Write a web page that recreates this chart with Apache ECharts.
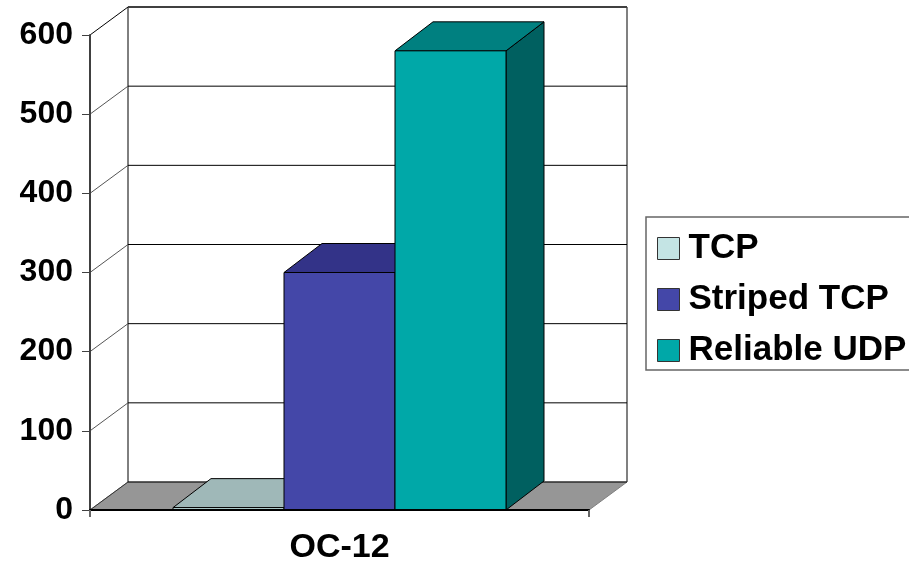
<!DOCTYPE html>
<html>
<head>
<meta charset="utf-8">
<script src="https://cdn.jsdelivr.net/npm/echarts@6/dist/echarts.min.js"></script>
<style>
html,body{margin:0;padding:0;background:#fff;}
#chart{width:909px;height:561px;}
</style>
</head>
<body>
<div id="chart"></div>
<script>
// ---- data ----
var categories = ['OC-12'];
var seriesNames = ['TCP', 'Striped TCP', 'Reliable UDP'];
var tcpValues = [3];
var stripedTcpValues = [300];
var reliableUdpValues = [580];
var yTicks = [0, 100, 200, 300, 400, 500, 600];

// ---- styles ----
var FONT = "'Liberation Sans', Arial, Helvetica, sans-serif";
var faceColors = [
  { front: '#C4E4E4', top: '#9FB8B8', side: '#7F9C9C' },
  { front: '#4447A8', top: '#333388', side: '#262666' },
  { front: '#00A8A8', top: '#008080', side: '#006060' }
];
var WALL_DX = 38, WALL_DY = -28;
var BAR_DX = 38, BAR_DY = -29;
var CAT_GAP = 1 - 333 / 499;

var chart = echarts.init(document.getElementById('chart'), null, { renderer: 'canvas' });

function wallRender(params, api) {
  var cs = params.coordSys;
  var v = api.value(0);
  var y = api.coord([0, v])[1];
  var xL = cs.x, xR = cs.x + cs.width;
  var children = [];
  var isTop = v === yTicks[yTicks.length - 1];
  var isBottom = v === yTicks[0];
  if (isBottom) {
    children.push({
      type: 'polygon',
      shape: { points: [[xL, y], [xL + WALL_DX, y + WALL_DY], [xR + WALL_DX, y + WALL_DY], [xR, y]] },
      style: { fill: '#969696', stroke: '#808080', lineWidth: 1 }
    });
    var yTopPx = api.coord([0, yTicks[yTicks.length - 1]])[1];
    children.push({
      type: 'line',
      shape: { x1: xL + WALL_DX, y1: yTopPx + WALL_DY, x2: xL + WALL_DX, y2: y + WALL_DY },
      style: { stroke: '#000', lineWidth: 1 }
    });
    children.push({
      type: 'line',
      shape: { x1: xR + WALL_DX, y1: yTopPx + WALL_DY, x2: xR + WALL_DX, y2: y + WALL_DY },
      style: { stroke: '#808080', lineWidth: 2 }
    });
  }
  children.push({
    type: 'line',
    shape: { x1: xL + WALL_DX, y1: y + WALL_DY, x2: xR + WALL_DX, y2: y + WALL_DY },
    style: { stroke: isTop ? '#404040' : '#000', lineWidth: isTop ? 2 : 1 }
  });
  children.push({
    type: 'line',
    shape: { x1: xL, y1: y, x2: xL + WALL_DX, y2: y + WALL_DY },
    style: { stroke: isTop ? '#000' : (isBottom ? '#333' : '#555'), lineWidth: 1 }
  });
  return { type: 'group', children: children };
}

function makeBarRender(idx) {
  return function (params, api) {
    var cat = api.value(0);
    var val = api.value(1);
    var band = api.size([1, 0])[0];
    var center = api.coord([cat, 0]);
    var yBot = center[1];
    var yTop = api.coord([cat, val])[1];
    var barW = band * (1 - CAT_GAP) / seriesNames.length;
    var x0 = center[0] - barW * seriesNames.length / 2 + idx * barW;
    var x1 = x0 + barW;
    var c = faceColors[idx];
    var edge = { stroke: '#000', lineWidth: 1, lineJoin: 'miter' };
    return {
      type: 'group',
      children: [
        {
          type: 'polygon',
          shape: { points: [[x1, yTop], [x1 + BAR_DX, yTop + BAR_DY], [x1 + BAR_DX, yBot + BAR_DY], [x1, yBot]] },
          style: Object.assign({ fill: c.side }, edge)
        },
        {
          type: 'polygon',
          shape: { points: [[x0, yTop], [x0 + BAR_DX, yTop + BAR_DY], [x1 + BAR_DX, yTop + BAR_DY], [x1, yTop]] },
          style: Object.assign({ fill: c.top }, edge)
        },
        {
          type: 'rect',
          shape: { x: x0, y: yTop, width: barW, height: yBot - yTop },
          style: Object.assign({ fill: c.front }, edge)
        }
      ]
    };
  };
}

var seriesValues = [tcpValues, stripedTcpValues, reliableUdpValues];

var series = [{
  type: 'custom',
  name: '_wall',
  silent: true,
  z: 1,
  encode: { y: 0 },
  data: yTicks.map(function (t) { return [t]; }),
  renderItem: wallRender
}];

seriesNames.forEach(function (name, i) {
  series.push({
    type: 'custom',
    name: name,
    z: 3 + i,
    itemStyle: { color: faceColors[i].front },
    encode: { x: 0, y: 1 },
    data: categories.map(function (c, k) { return [k, seriesValues[i][k]]; }),
    renderItem: makeBarRender(i)
  });
});

chart.setOption({
  animation: false,
  backgroundColor: '#fff',
  grid: { left: 90, top: 35, width: 499, height: 475, containLabel: false, outerBoundsMode: 'none' },
  xAxis: {
    type: 'category',
    data: categories,
    boundaryGap: true,
    axisLine: { show: true, lineStyle: { color: '#000', width: 2 } },
    axisTick: { show: true, length: 7, lineStyle: { color: '#666', width: 2 } },
    axisLabel: { fontFamily: FONT, fontSize: 34, fontWeight: 'bold', color: '#000', margin: 21 },
    splitLine: { show: false },
    z: 10
  },
  yAxis: {
    type: 'value',
    min: 0,
    max: 600,
    interval: 100,
    axisLine: { show: true, lineStyle: { color: '#404040', width: 2 } },
    axisTick: { show: true, length: 8, lineStyle: { color: '#404040', width: 1 } },
    axisLabel: { fontFamily: FONT, fontSize: 32, fontWeight: 'bold', color: '#000', margin: 17 },
    splitLine: { show: false },
    z: 10
  },
  legend: {
    data: seriesNames,
    orient: 'vertical',
    left: 646,
    top: 217,
    padding: [14, 20, 2, 11],
    itemGap: 16,
    itemWidth: 22,
    itemHeight: 22,
    icon: 'rect',
    borderColor: '#666',
    borderWidth: 1.5,
    backgroundColor: '#fff',
    itemStyle: { borderColor: '#333', borderWidth: 1 },
    textStyle: { fontFamily: FONT, fontSize: 35, fontWeight: 'bold', color: '#000', lineHeight: 35, padding: [0, 0, 0, 4] },
    selectedMode: false
  },
  tooltip: { show: false },
  series: series
});
</script>
</body>
</html>
